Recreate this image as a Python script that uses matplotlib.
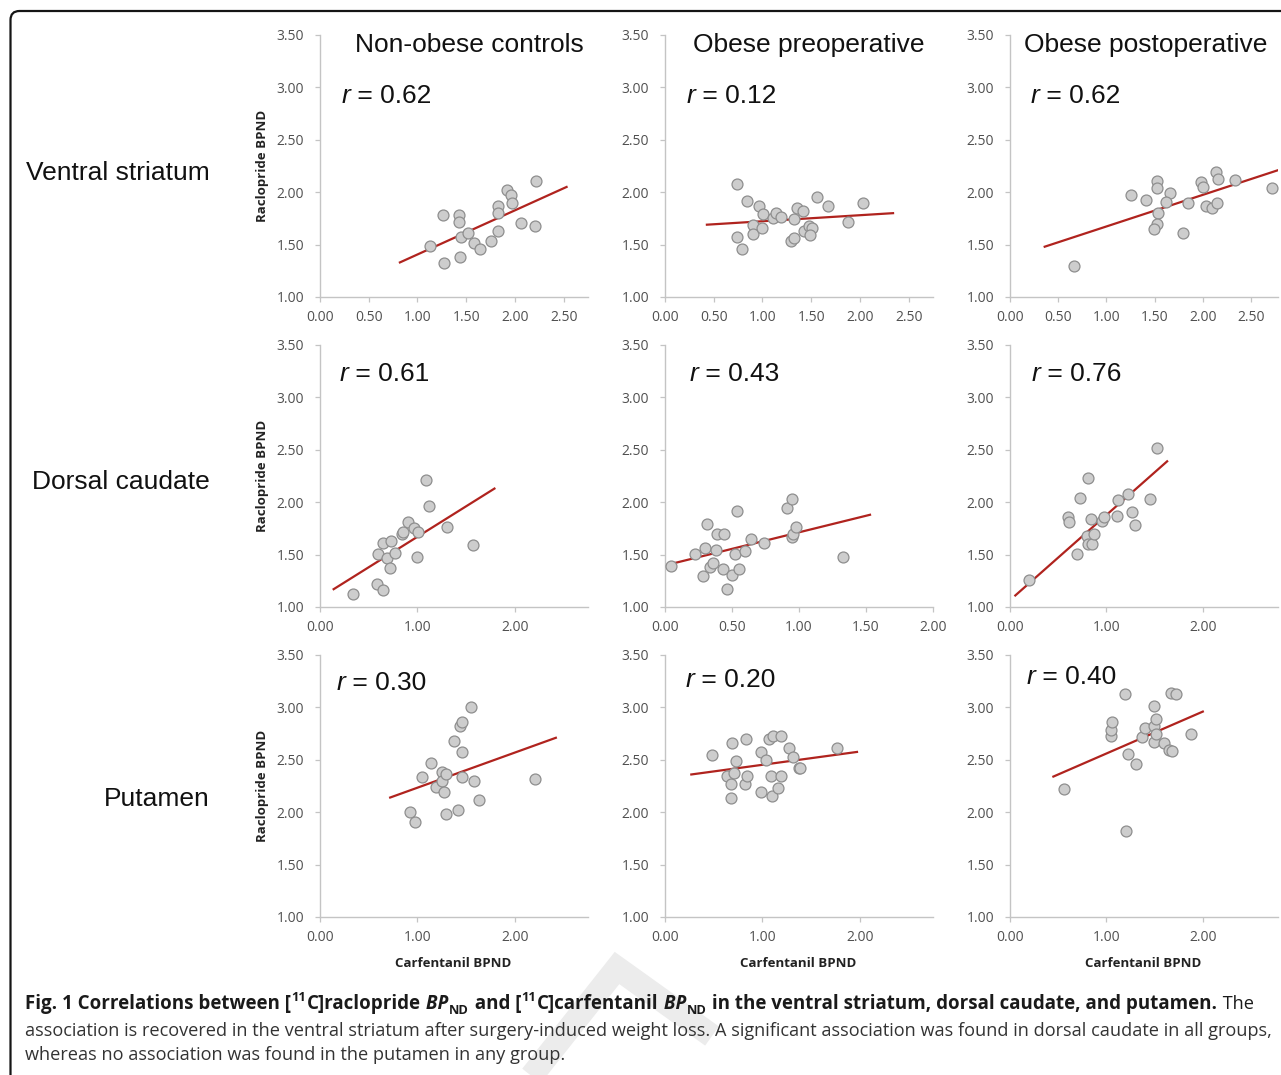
import numpy as np
import matplotlib
matplotlib.use('Agg')
import matplotlib.pyplot as plt
from matplotlib.patches import FancyBboxPatch
from matplotlib.lines import Line2D
from matplotlib.text import Annotation
from matplotlib.transforms import IdentityTransform
from matplotlib.ticker import MultipleLocator, FormatStrFormatter

#Column / row names and correlation coefficients
groups = ['Non-obese controls', 'Obese preoperative', 'Obese postoperative']
regions = ['Ventral striatum', 'Dorsal caudate', 'Putamen']
r_values = [[0.62, 0.12, 0.62],
            [0.61, 0.43, 0.76],
            [0.30, 0.20, 0.40]]

#Ventral striatum (carfentanil x, raclopride y), fit line ends
vs_ctrl_x = [1.13, 1.26, 1.43, 1.43, 1.27, 1.44, 1.45, 1.52, 1.58, 1.64, 1.75, 1.83, 1.83, 1.83, 1.92, 1.96, 1.97, 2.06, 2.21, 2.22]
vs_ctrl_y = [1.49, 1.78, 1.78, 1.72, 1.32, 1.385, 1.57, 1.61, 1.52, 1.46, 1.53, 1.63, 1.87, 1.80, 2.02, 1.97, 1.90, 1.71, 1.68, 2.11]
vs_ctrl_fit_x = [0.82, 2.53]
vs_ctrl_fit_y = [1.33, 2.05]

vs_pre_x = [0.74, 0.84, 0.74, 0.79, 0.96, 0.90, 0.90, 1.01, 1.00, 1.11, 1.14, 1.19, 1.32, 1.35, 1.42, 1.43, 1.48, 1.51, 1.49, 1.29, 1.32, 1.56, 1.67, 1.88, 2.03]
vs_pre_y = [2.08, 1.92, 1.57, 1.46, 1.87, 1.685, 1.605, 1.79, 1.66, 1.755, 1.80, 1.76, 1.74, 1.85, 1.82, 1.63, 1.68, 1.66, 1.59, 1.53, 1.56, 1.95, 1.87, 1.72, 1.90]
vs_pre_fit_x = [0.43, 2.34]
vs_pre_fit_y = [1.69, 1.80]

vs_post_x = [0.66, 1.26, 1.41, 1.52, 1.52, 1.66, 1.62, 1.54, 1.53, 1.49, 1.79, 1.85, 1.98, 2.00, 2.03, 2.10, 2.15, 2.14, 2.16, 2.33, 2.72]
vs_post_y = [1.30, 1.97, 1.93, 2.11, 2.04, 1.99, 1.91, 1.80, 1.70, 1.65, 1.61, 1.90, 2.10, 2.05, 1.87, 1.85, 1.90, 2.19, 2.13, 2.12, 2.04]
vs_post_fit_x = [0.36, 2.78]
vs_post_fit_y = [1.48, 2.21]

#Dorsal caudate
dc_ctrl_x = [0.34, 0.58, 0.65, 0.60, 0.65, 0.73, 0.69, 0.72, 0.77, 0.84, 0.85, 0.90, 0.96, 1.01, 1.00, 1.09, 1.12, 1.30, 1.57]
dc_ctrl_y = [1.12, 1.22, 1.16, 1.51, 1.61, 1.63, 1.47, 1.37, 1.52, 1.70, 1.72, 1.81, 1.75, 1.72, 1.48, 2.21, 1.96, 1.76, 1.59]
dc_ctrl_fit_x = [0.14, 1.79]
dc_ctrl_fit_y = [1.17, 2.13]

dc_pre_x = [0.045, 0.225, 0.30, 0.31, 0.285, 0.335, 0.36, 0.38, 0.39, 0.44, 0.435, 0.46, 0.50, 0.52, 0.54, 0.55, 0.60, 0.645, 0.74, 0.91, 0.95, 0.95, 0.955, 0.975, 1.33]
dc_pre_y = [1.39, 1.51, 1.56, 1.79, 1.30, 1.38, 1.42, 1.54, 1.70, 1.70, 1.365, 1.17, 1.31, 1.51, 1.92, 1.365, 1.53, 1.65, 1.61, 1.94, 2.03, 1.67, 1.70, 1.76, 1.48]
dc_pre_fit_x = [0.01, 1.53]
dc_pre_fit_y = [1.40, 1.88]

dc_post_x = [0.20, 0.60, 0.61, 0.70, 0.73, 0.81, 0.80, 0.81, 0.85, 0.87, 0.84, 0.95, 0.98, 1.11, 1.12, 1.22, 1.27, 1.30, 1.45, 1.53]
dc_post_y = [1.26, 1.86, 1.81, 1.51, 2.04, 2.23, 1.68, 1.60, 1.60, 1.70, 1.84, 1.82, 1.855, 1.87, 2.02, 2.08, 1.905, 1.78, 2.03, 2.52]
dc_post_fit_x = [0.055, 1.63]
dc_post_fit_y = [1.11, 2.39]

#Putamen
pu_ctrl_x = [0.92, 0.97, 1.045, 1.14, 1.19, 1.25, 1.25, 1.27, 1.29, 1.29, 1.38, 1.42, 1.44, 1.46, 1.46, 1.46, 1.55, 1.58, 1.63, 2.21]
pu_ctrl_y = [2.00, 1.91, 2.34, 2.47, 2.24, 2.38, 2.30, 2.19, 1.985, 2.36, 2.68, 2.02, 2.82, 2.865, 2.57, 2.34, 3.00, 2.30, 2.12, 2.32]
pu_ctrl_fit_x = [0.72, 2.42]
pu_ctrl_fit_y = [2.14, 2.71]

pu_pre_x = [0.485, 0.64, 0.69, 0.68, 0.68, 0.71, 0.73, 0.83, 0.82, 0.84, 0.98, 0.99, 1.04, 1.07, 1.11, 1.09, 1.10, 1.16, 1.19, 1.19, 1.27, 1.31, 1.37, 1.39, 1.76]
pu_pre_y = [2.55, 2.35, 2.66, 2.27, 2.14, 2.37, 2.49, 2.70, 2.265, 2.35, 2.19, 2.57, 2.50, 2.70, 2.73, 2.35, 2.15, 2.23, 2.73, 2.35, 2.61, 2.53, 2.42, 2.42, 2.61]
pu_pre_fit_x = [0.27, 1.97]
pu_pre_fit_y = [2.36, 2.575]

pu_post_x = [0.56, 1.05, 1.05, 1.06, 1.19, 1.20, 1.22, 1.31, 1.37, 1.40, 1.49, 1.49, 1.51, 1.49, 1.51, 1.60, 1.65, 1.68, 1.67, 1.72, 1.88]
pu_post_y = [2.22, 2.73, 2.78, 2.86, 3.125, 1.82, 2.56, 2.46, 2.72, 2.80, 2.82, 3.01, 2.89, 2.67, 2.75, 2.665, 2.59, 2.585, 3.14, 3.13, 2.75]
pu_post_fit_x = [0.45, 2.00]
pu_post_fit_y = [2.34, 2.96]

caption_line2 = ('association is recovered in the ventral striatum after surgery-induced weight loss. '
                 'A significant association was found in dorsal caudate in all groups,')
caption_line3 = 'whereas no association was found in the putamen in any group.'

panels = [
    [(vs_ctrl_x, vs_ctrl_y, vs_ctrl_fit_x, vs_ctrl_fit_y),
     (vs_pre_x, vs_pre_y, vs_pre_fit_x, vs_pre_fit_y),
     (vs_post_x, vs_post_y, vs_post_fit_x, vs_post_fit_y)],
    [(dc_ctrl_x, dc_ctrl_y, dc_ctrl_fit_x, dc_ctrl_fit_y),
     (dc_pre_x, dc_pre_y, dc_pre_fit_x, dc_pre_fit_y),
     (dc_post_x, dc_post_y, dc_post_fit_x, dc_post_fit_y)],
    [(pu_ctrl_x, pu_ctrl_y, pu_ctrl_fit_x, pu_ctrl_fit_y),
     (pu_pre_x, pu_pre_y, pu_pre_fit_x, pu_pre_fit_y),
     (pu_post_x, pu_post_y, pu_post_fit_x, pu_post_fit_y)],
]

#Layout (pixels of the 1281x1075 canvas)
W, H = 1281, 1075
col_left = [320, 665, 1010]
row_bottom = [297, 607, 917]
ax_w, ax_h = 268, 262
x_step = [[0.5, 0.5, 0.5], [1.0, 0.5, 1.0], [1.0, 1.0, 1.0]]
x_max = [[2.75, 2.75, 2.78], [2.75, 2.0, 2.78], [2.75, 2.75, 2.78]]
r_pos = [[(0.081, 0.742), (0.079, 0.742), (0.075, 0.742)],
         [(0.072, 0.864), (0.090, 0.864), (0.081, 0.864)],
         [(0.062, 0.866), (0.075, 0.877), (0.062, 0.889)]]
title_x = [0.131, 0.106, 0.052]
region_baseline = [180, 489, 806]

spine_col = '#c4c4c4'
tick_col = '#505050'
fit_col = '#b0231e'

fig = plt.figure(figsize=(W / 100, H / 100), dpi=100)

#Faint watermark strokes behind the caption (top of a large letter)
wm = Line2D([522, 617, 712], [H - 1088, H - 968, H - 1036], transform=IdentityTransform(),
            color='#ececec', lw=17, solid_joinstyle='miter', solid_capstyle='butt', zorder=0)
fig.add_artist(wm)

for i in range(3):
    for j in range(3):
        xs, ys, fx, fy = panels[i][j]
        ax = fig.add_axes([col_left[j] / W, 1 - row_bottom[i] / H, ax_w / W, ax_h / H])
        ax.plot(fx, fy, color=fit_col, lw=1.6, zorder=2)
        ax.scatter(xs, ys, s=62, facecolor='#cdcdcd', edgecolor='#8e8e8e', linewidth=0.9, zorder=3)
        ax.set_xlim(0, x_max[i][j])
        ax.set_ylim(1.0, 3.5)
        ax.xaxis.set_major_locator(MultipleLocator(x_step[i][j]))
        ax.yaxis.set_major_locator(MultipleLocator(0.5))
        ax.xaxis.set_major_formatter(FormatStrFormatter('%.2f'))
        ax.yaxis.set_major_formatter(FormatStrFormatter('%.2f'))
        for s in ['top', 'right']:
            ax.spines[s].set_visible(False)
        for s in ['left', 'bottom']:
            ax.spines[s].set_color(spine_col)
            ax.spines[s].set_linewidth(1.0)
        ax.tick_params(axis='both', colors=spine_col, labelcolor=tick_col, length=3.5, width=0.9,
                       labelsize=10)
        ax.tick_params(axis='y', pad=8)
        ax.tick_params(axis='x', pad=6)
        for lab in ax.get_xticklabels() + ax.get_yticklabels():
            lab.set_family('Open Sans')

        #r = value, italic r followed by the number
        rx, ry = r_pos[i][j]
        rt = ax.text(rx, ry, 'r', transform=ax.transAxes, fontsize=19, style='italic',
                     family='Liberation Sans', ha='left', va='baseline', color='#111111')
        ax.annotate(' = %.2f' % r_values[i][j], xy=(1, ry), xycoords=(rt, 'axes fraction'),
                    fontsize=19, family='Liberation Sans', ha='left', va='baseline', color='#111111')

        if i == 0:
            ax.text(title_x[j], 0.936, groups[j], transform=ax.transAxes, fontsize=19,
                    family='Liberation Sans', ha='left', va='baseline', color='#111111')
        if j == 0:
            ax.text(-0.216, 0.5, 'Raclopride BPND', transform=ax.transAxes, rotation=90,
                    fontsize=9.5, weight='bold', family='Open Sans', ha='center', va='center',
                    color='#222222')
        if i == 2:
            ax.text(0.496, -0.176, 'Carfentanil BPND', transform=ax.transAxes,
                    fontsize=9.5, weight='bold', family='Open Sans', ha='center', va='center',
                    color='#222222')

for i in range(3):
    fig.text(210 / W, 1 - region_baseline[i] / H, regions[i], fontsize=19, family='Liberation Sans',
             ha='right', va='baseline', color='#111111')

#Rounded frame
frame = FancyBboxPatch((10.5, -60), 1400, 1064 + 60, boxstyle='round,pad=0,rounding_size=9',
                       transform=IdentityTransform(), facecolor='none', edgecolor='#151515', lw=1.6)
fig.add_artist(frame)

#Caption: first line is built from runs of bold / italic / sub- and superscript text
cap_size = 13.1
bold_size = 13.5
small = 9.3
y1 = 1 - 1009 / H
bold = dict(weight='bold')
pieces = [
    ('Fig. 1 Correlations between [', bold, bold_size, 0),
    ('11', bold, small, 5.5),
    ('C]raclopride', bold, bold_size, 0),
    (' BP', dict(weight='bold', style='italic'), bold_size, 0),
    ('ND', bold, small, -3.5),
    (' and [', bold, bold_size, 0),
    ('11', bold, small, 5.5),
    ('C]carfentanil', bold, bold_size, 0),
    (' BP', dict(weight='bold', style='italic'), bold_size, 0),
    ('ND', bold, small, -3.5),
    (' in the ventral striatum, dorsal caudate, and putamen.', bold, bold_size, 0),
    (' The', dict(weight='normal'), cap_size, 0),
]
prev = None
for txt, kw, size, dy in pieces:
    if prev is None:
        prev = fig.text(25 / W, y1, txt, fontsize=size, family='Open Sans', ha='left',
                        va='baseline', color='#1a1a1a', **kw)
    else:
        ann = Annotation(txt, xy=(1, y1), xycoords=(prev, 'figure fraction'), xytext=(0.4, dy),
                         textcoords='offset points', fontsize=size, family='Open Sans',
                         ha='left', va='baseline', color='#1a1a1a', **kw)
        fig.add_artist(ann)
        prev = ann

fig.text(25 / W, 1 - 1036 / H, caption_line2, fontsize=cap_size, family='Open Sans',
         ha='left', va='baseline', color='#333333')
fig.text(25 / W, 1 - 1060 / H, caption_line3, fontsize=cap_size, family='Open Sans',
         ha='left', va='baseline', color='#333333')

fig.savefig('out.png', dpi=100)
